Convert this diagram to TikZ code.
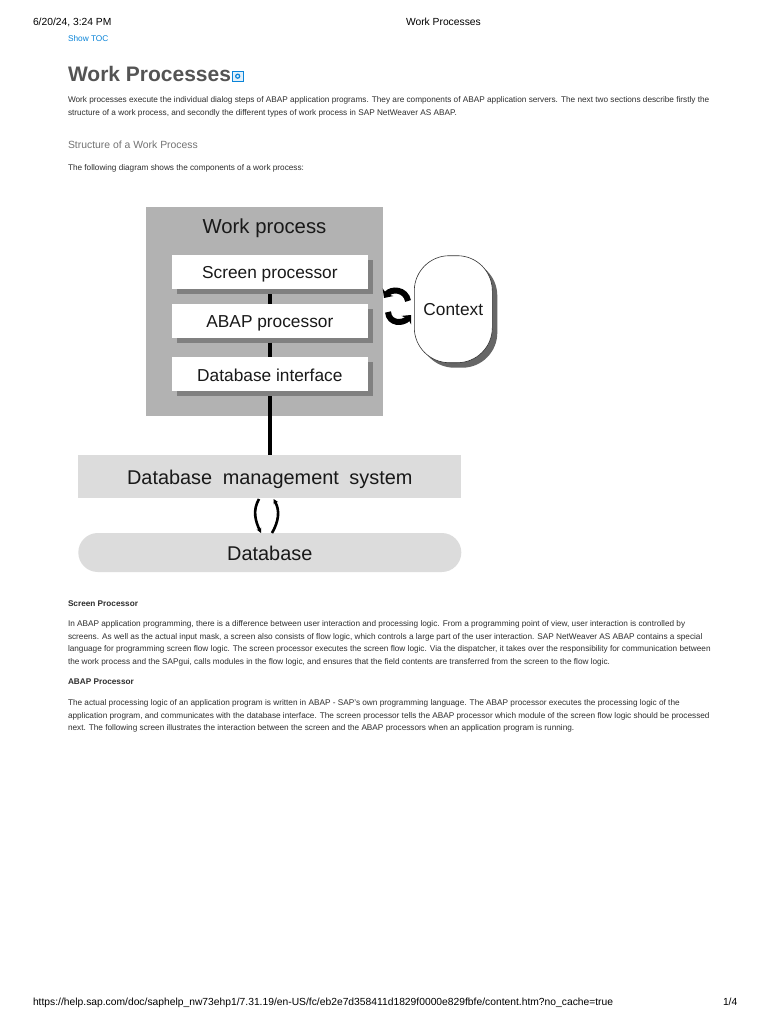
\documentclass[tikz,border=0pt]{standalone}
\usepackage{fontspec}
\setmainfont{Liberation Sans}
\usetikzlibrary{arrows.meta}
\definecolor{boxgray}{HTML}{B2B2B2}
\definecolor{shadegray}{HTML}{808080}
\definecolor{palegray}{HTML}{DCDCDC}
\definecolor{linkblue}{HTML}{0A84D8}
\newcommand{\fs}[1]{\fontsize{#1pt}{#1pt}\selectfont}
\tikzset{
  every node/.style={inner sep=0pt,outer sep=0pt},
  pagetext/.style={anchor=base west,text=black!82,font=\fs{8.23}},
  pagehead/.style={anchor=base west,text=black!82,font=\fs{8.23}\bfseries},
  headerfoot/.style={anchor=base west,text=black,font=\fs{10.3}},
  whitebox/.style={fill=white,minimum width=196.3pt,minimum height=34pt},
  shadebox/.style={fill=shadegray,minimum width=196.3pt,minimum height=34pt},
  label17/.style={font=\fs{17.3},text=black!90},
  bar/.style={line width=4pt,black},
  loopthick/.style={line width=6pt,black,-{Stealth[length=7pt,width=13pt]}},
  loopthin/.style={line width=2.6pt,black,-{Stealth[length=5pt,width=5pt]}}
}
\begin{document}
\begin{tikzpicture}[x=1pt,y=-1pt]
\useasboundingbox (0,0) rectangle (768,1024);
\fill[white] (0,0) rectangle (768,1024);
% page header
\node[headerfoot] (date) at (33,26) {6/20/24, 3:24 PM};
\node[headerfoot] (hdr) at (406,26) {Work Processes};
\node[anchor=base west,text=linkblue,font=\fs{8.3}] (toc) at (68,42) {Show TOC};
\node[anchor=base west,text=black!67,font=\fs{21}\bfseries] (title) at (68,82) {Work Processes};
\draw[linkblue,line width=0.8pt,fill=linkblue!12] (232.5,71.5) rectangle (243,81);
\draw[linkblue,line width=1.2pt] (237.7,76.2) circle (2pt);
\node[pagetext] (p1) at (68,103) {Work processes execute the individual dialog steps of ABAP application programs. They are components of ABAP application servers. The next two sections describe firstly the};
\node[pagetext] (p2) at (68,116) {structure of a work process, and secondly the different types of work process in SAP NetWeaver AS ABAP.};
\node[anchor=base west,text=black!55,font=\fs{10.4}] (sec) at (68,148.5) {Structure of a Work Process};
\node[pagetext] (p3) at (68,170.5) {The following diagram shows the components of a work process:};
% diagram
\node[fill=boxgray,minimum width=237.3pt,minimum height=209pt] (wp) at (264.35,311.2) {};
\node[label17,font=\fs{20.3}] (wpt) at (264.5,228.5) {Work process};
\node[shadebox] (s1) at (274.85,277) {};
\node[whitebox] (screen) at (269.85,272) {};
\node[label17] at (269.85,274) (screent) {Screen processor};
\node[shadebox] (s2) at (274.85,325.7) {};
\node[whitebox] (abap) at (269.85,320.7) {};
\node[label17] at (269.85,323) (abapt) {ABAP processor};
\node[shadebox] (s3) at (274.85,379.3) {};
\node[whitebox] (dbif) at (269.85,374.3) {};
\node[label17] at (269.85,375.3) (dbift) {Database interface};
\node[fill=palegray,minimum width=383pt,minimum height=43.3pt] (dbms) at (269.8,476.6) {};
\node[font=\fs{19.9},text=black!90] (dbmst) at (269.8,479.5) {Database\hskip 5pt\ management\hskip 5pt\ system};
\node[fill=palegray,minimum width=383pt,minimum height=39pt,rounded corners=19.5pt] (db) at (269.8,552.5) {};
\node[font=\fs{19.9},text=black!90] (dbt) at (269.8,553) {Database};
\node[fill=black!60,minimum width=78pt,minimum height=107pt,rounded corners=35pt] (cs) at (458.3,314.2) {};
\node[draw=black!80,line width=0.6pt,fill=white,minimum width=78pt,minimum height=107pt,rounded corners=35pt] (ctx) at (453.3,309.2) {};
\node[label17] at (ctx) (ctxt) {Context};
% connectors
\draw[bar] (s1.south -| abap.north) -- (abap.north);
\draw[bar] (s2.south -| dbif.north) -- (dbif.north);
\draw[bar] (s3.south -| dbms.north) -- (dbms.north);
\coordinate (ca) at (408,301);
\coordinate (cb) at (384,298);
\coordinate (cc) at (388,312);
\coordinate (cd) at (411,315);
\draw[loopthick] (ca) .. controls (406,289) and (391,288) .. (cb);
\draw[loopthick] (cc) .. controls (389,324) and (403,324) .. (cd);
\coordinate (da) at (261,533);
\coordinate (db1) at (259,499);
\coordinate (dc) at (272,533);
\coordinate (dd) at (273.5,499);
\draw[loopthin] (db1) to[out=-120,in=115,looseness=1] (da);
\draw[loopthin] (dc) to[out=60,in=-60,looseness=1] (dd);
% body text
\node[pagehead] (h1) at (68,606) {Screen Processor};
\node[pagetext] (t1) at (68,626.5) {In ABAP application programming, there is a difference between user interaction and processing logic. From a programming point of view, user interaction is controlled by};
\node[pagetext] (t2) at (68,639) {screens. As well as the actual input mask, a screen also consists of flow logic, which controls a large part of the user interaction. SAP NetWeaver AS ABAP contains a special};
\node[pagetext] (t3) at (68,651.5) {language for programming screen flow logic. The screen processor executes the screen flow logic. Via the dispatcher, it takes over the responsibility for communication between};
\node[pagetext] (t4) at (68,664) {the work process and the SAPgui, calls modules in the flow logic, and ensures that the field contents are transferred from the screen to the flow logic.};
\node[pagehead] (h2) at (68,684) {ABAP Processor};
\node[pagetext] (u1) at (68,705) {The actual processing logic of an application program is written in ABAP - SAP's own programming language. The ABAP processor executes the processing logic of the};
\node[pagetext] (u2) at (68,718) {application program, and communicates with the database interface. The screen processor tells the ABAP processor which module of the screen flow logic should be processed};
\node[pagetext] (u3) at (68,730) {next. The following screen illustrates the interaction between the screen and the ABAP processors when an application program is running.};
% footer
\node[headerfoot] (url) at (33,1005.5) {https://help.sap.com/doc/saphelp\_nw73ehp1/7.31.19/en-US/fc/eb2e7d358411d1829f0000e829fbfe/content.htm?no\_cache=true};
\node[headerfoot] (pg) at (723,1005.5) {1/4};
\end{tikzpicture}
\end{document}
